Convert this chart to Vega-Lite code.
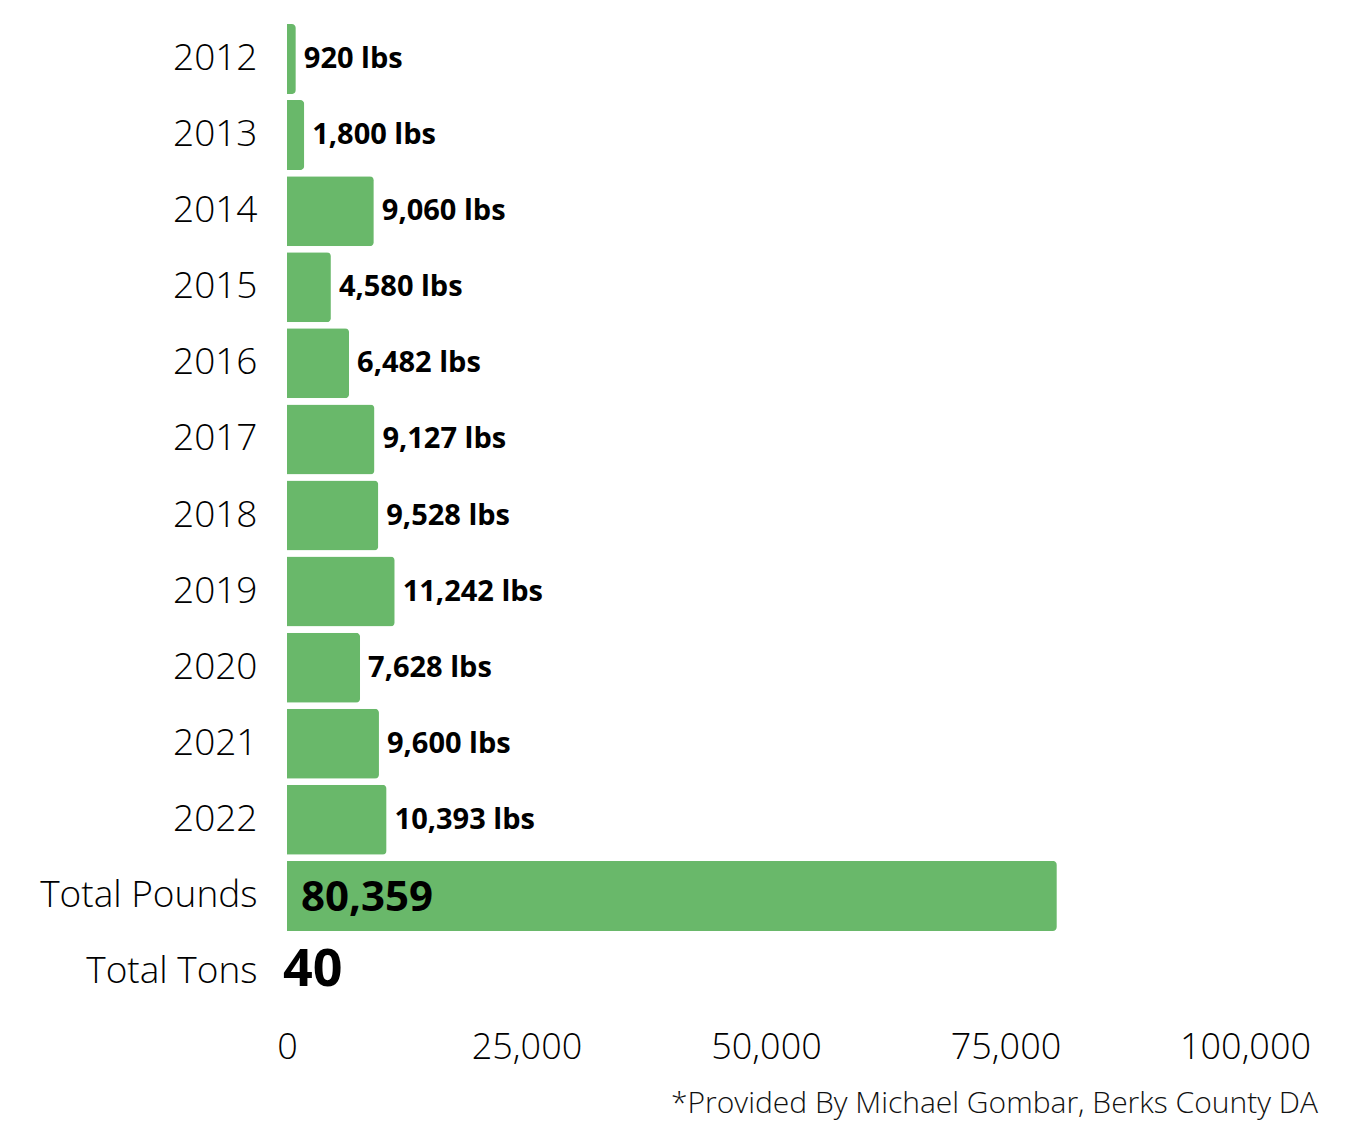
{
  "$schema": "https://vega.github.io/schema/vega-lite/v6.json",
  "autosize": "none",
  "width": 958,
  "height": 989,
  "padding": {"left": 287, "top": 21, "right": 105, "bottom": 136},
  "background": "white",
  "config": {"view": {"stroke": null}, "font": "Open Sans"},
  "title": {
    "text": "*Provided By Michael Gombar, Berks County DA",
    "orient": "bottom",
    "anchor": "end",
    "frame": "group",
    "font": "Open Sans",
    "fontSize": 30,
    "fontWeight": 300,
    "color": "#111",
    "offset": 24,
    "dx": 73
  },
  "data": {
    "values": [
      {"category": "2012", "pounds": 920, "label": "920 lbs", "kind": "year"},
      {"category": "2013", "pounds": 1800, "label": "1,800 lbs", "kind": "year"},
      {"category": "2014", "pounds": 9060, "label": "9,060 lbs", "kind": "year"},
      {"category": "2015", "pounds": 4580, "label": "4,580 lbs", "kind": "year"},
      {"category": "2016", "pounds": 6482, "label": "6,482 lbs", "kind": "year"},
      {"category": "2017", "pounds": 9127, "label": "9,127 lbs", "kind": "year"},
      {"category": "2018", "pounds": 9528, "label": "9,528 lbs", "kind": "year"},
      {"category": "2019", "pounds": 11242, "label": "11,242 lbs", "kind": "year"},
      {"category": "2020", "pounds": 7628, "label": "7,628 lbs", "kind": "year"},
      {"category": "2021", "pounds": 9600, "label": "9,600 lbs", "kind": "year"},
      {"category": "2022", "pounds": 10393, "label": "10,393 lbs", "kind": "year"},
      {"category": "Total Pounds", "pounds": 80359, "label": "80,359", "kind": "total"},
      {"category": "Total Tons", "pounds": null, "label": "40", "kind": "tons"}
    ]
  },
  "encoding": {
    "y": {
      "field": "category",
      "type": "nominal",
      "sort": null,
      "scale": {"paddingInner": 0.08, "paddingOuter": 0.04},
      "axis": {
        "title": null,
        "domain": false,
        "ticks": false,
        "labelPadding": 30,
        "labelFontSize": 37,
        "labelFont": "Open Sans",
        "labelFontWeight": 300,
        "labelColor": "#000",
        "labelLimit": 400
      }
    }
  },
  "layer": [
    {
      "transform": [{"filter": "datum.pounds != null"}],
      "mark": {"type": "bar", "color": "#69b86a", "cornerRadiusEnd": 4},
      "encoding": {
        "x": {
          "field": "pounds",
          "type": "quantitative",
          "scale": {"domain": [0, 100000]},
          "axis": {
            "title": null,
            "values": [0, 25000, 50000, 75000, 100000],
            "format": ",.0f",
            "domain": false,
            "ticks": false,
            "grid": false,
            "labelPadding": 20,
            "labelFontSize": 36,
            "labelFont": "Open Sans",
            "labelFontWeight": 300,
            "labelColor": "#000",
            "labelFlush": false
          }
        }
      }
    },
    {
      "transform": [{"filter": "datum.kind == 'year'"}],
      "mark": {"type": "text", "align": "left", "baseline": "middle", "dx": 8, "fontSize": 29, "fontWeight": "bold", "font": "Open Sans", "color": "#000"},
      "encoding": {
        "x": {"field": "pounds", "type": "quantitative"},
        "text": {"field": "label"}
      }
    },
    {
      "transform": [{"filter": "datum.kind == 'total'"}],
      "mark": {"type": "text", "align": "left", "baseline": "middle", "dx": 14, "dy": 2, "fontSize": 42, "fontWeight": "bold", "font": "Open Sans", "color": "#000"},
      "encoding": {
        "x": {"datum": 0, "type": "quantitative"},
        "text": {"field": "label"}
      }
    },
    {
      "transform": [{"filter": "datum.kind == 'tons'"}],
      "mark": {"type": "text", "align": "left", "baseline": "middle", "dx": -4, "dy": -2, "fontSize": 52, "fontWeight": "bold", "font": "Open Sans", "color": "#000"},
      "encoding": {
        "x": {"datum": 0, "type": "quantitative"},
        "text": {"field": "label"}
      }
    }
  ]
}
